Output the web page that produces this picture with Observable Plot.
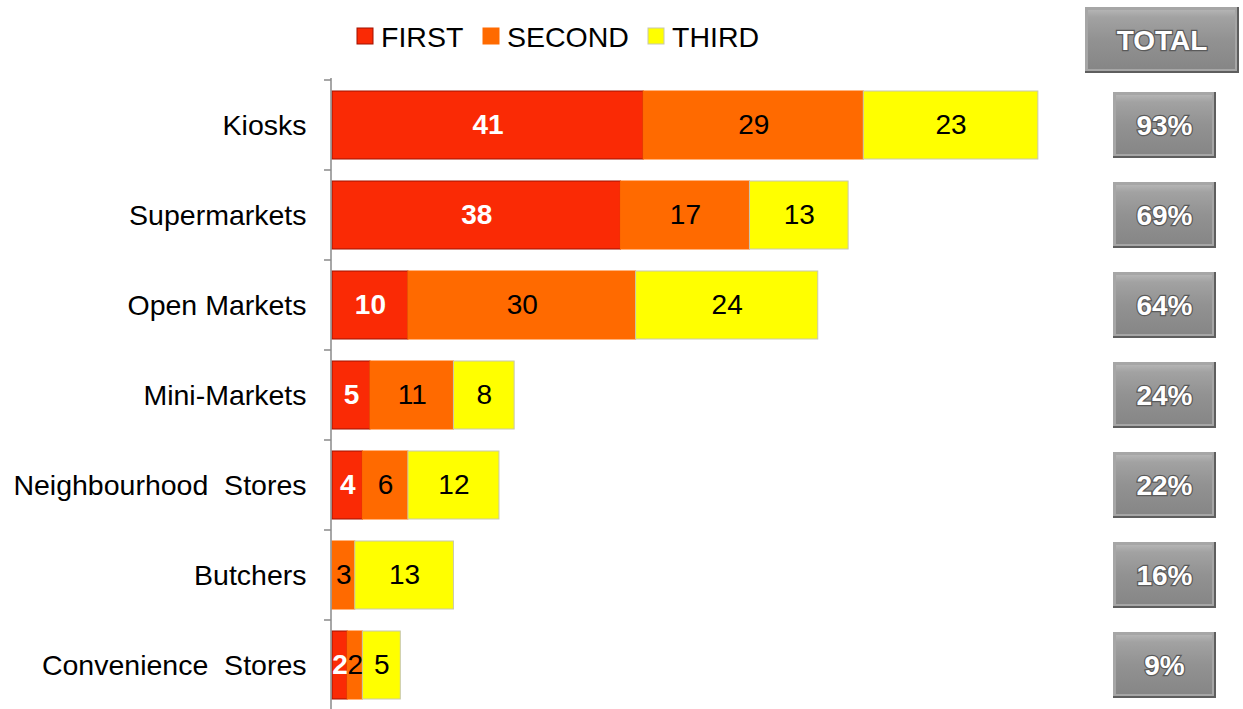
<!DOCTYPE html>
<html>
<head>
<meta charset="utf-8">
<script src="https://cdn.jsdelivr.net/npm/d3@7"></script>
<script src="https://cdn.jsdelivr.net/npm/@observablehq/plot@0.6"></script>
<style>
  html, body { margin: 0; padding: 0; background: #fff; }
  #chart { position: relative; width: 1243px; height: 709px; font-family: "Liberation Sans", Arial, sans-serif; }
  #chart svg { overflow: visible; }
</style>
</head>
<body>
<div id="chart"></div>
<script>
const categories = ["Kiosks", "Supermarkets", "Open Markets", "Mini-Markets", "Neighbourhood Stores", "Butchers", "Convenience Stores"];
const seriesNames = ["FIRST", "SECOND", "THIRD"];
const first  = [41, 38, 10, 5, 4, 0, 2];
const second = [29, 17, 30, 11, 6, 3, 2];
const third  = [23, 13, 24, 8, 12, 13, 5];
const totals = ["93%", "69%", "64%", "24%", "22%", "16%", "9%"];
const seriesFill   = {FIRST: "#fa2a05", SECOND: "#ff6a00", THIRD: "#ffff00"};
const seriesStroke = {FIRST: "#a01000", SECOND: "#ff6a00", THIRD: "#c8c8b0"};

const values = [first, second, third];
const data = [];
categories.forEach((c, i) => {
  seriesNames.forEach((s, j) => data.push({category: c, series: s, value: values[j][i]}));
});

const plot = Plot.plot({
  width: 1243,
  height: 709,
  marginLeft: 332,
  marginRight: 152,
  marginTop: 79,
  marginBottom: 0,
  style: {fontFamily: "Liberation Sans, Arial, sans-serif", background: "transparent", overflow: "visible"},
  x: {domain: [0, 100], axis: null},
  y: {type: "band", domain: categories, range: [78.7, 711], paddingInner: 0.247, paddingOuter: 0.1235, label: null},
  color: {type: "identity"},
  marks: [
    Plot.barX(data, Plot.stackX({
      x: "value", y: "category", z: "series",
      fill: d => seriesFill[d.series],
      stroke: d => seriesStroke[d.series],
      strokeWidth: 1
    })),
    Plot.text(data, Plot.stackX({
      x: "value", y: "category", z: "series",
      text: d => (d.series === "FIRST" && d.value > 0) ? String(d.value) : null,
      fill: "white", fontWeight: "bold", fontSize: 28
    })),
    Plot.text(data, Plot.stackX({
      x: "value", y: "category", z: "series",
      text: d => (d.series !== "FIRST" && d.value > 0) ? String(d.value) : null,
      fill: "black", fontSize: 28
    })),
    Plot.axisY({
      tickSize: 0, tickPadding: 26, fontSize: 28.5, color: "#000", label: null,
      tickFormat: d => d.replace(" Stores", " \u00a0Stores")
    })
  ]
});

document.getElementById("chart").appendChild(plot);

const svg = d3.select(plot);
const y = plot.scale("y");
const bw = y.bandwidth;
const step = y.step;
const gap = step - bw;

// defs for bevelled grey boxes
const defs = svg.append("defs");
const grad = defs.append("linearGradient").attr("id", "boxGrad").attr("x1", 0).attr("y1", 0).attr("x2", 0).attr("y2", 1);
grad.append("stop").attr("offset", "0%").attr("stop-color", "#b4b4b4");
grad.append("stop").attr("offset", "12%").attr("stop-color", "#a2a2a2");
grad.append("stop").attr("offset", "50%").attr("stop-color", "#929292");
grad.append("stop").attr("offset", "100%").attr("stop-color", "#868686");

function bevelBox(g, x, yTop, w, h, label) {
  g.append("rect").attr("x", x).attr("y", yTop).attr("width", w).attr("height", h).attr("fill", "#5e5e5e");
  g.append("rect").attr("x", x).attr("y", yTop).attr("width", w - 2).attr("height", h - 2).attr("fill", "#a6a6a6");
  g.append("rect").attr("x", x + 3).attr("y", yTop + 3).attr("width", w - 7).attr("height", h - 7).attr("fill", "url(#boxGrad)");
  g.append("text")
    .attr("x", x + w / 2).attr("y", yTop + h / 2)
    .attr("text-anchor", "middle").attr("dominant-baseline", "central")
    .attr("font-family", "Liberation Sans, Arial, sans-serif")
    .attr("font-weight", "bold").attr("font-size", 28)
    .attr("fill", "#fff").attr("stroke", "#5a5a5a").attr("stroke-width", 2.5)
    .attr("paint-order", "stroke")
    .text(label);
}

// y axis line and tick marks at band boundaries
const axG = svg.append("g").attr("stroke", "#8a8a8a").attr("stroke-width", 1.5);
const x0 = plot.scale("x").apply(0) - 1;
axG.append("line").attr("x1", x0).attr("x2", x0).attr("y1", 78).attr("y2", 709);
categories.forEach(c => {
  const yb = y.apply(c) - gap / 2;
  axG.append("line").attr("x1", x0 - 7).attr("x2", x0).attr("y1", yb).attr("y2", yb);
});

// total boxes
const totG = svg.append("g");
bevelBox(totG, 1085, 7, 154, 66, "TOTAL");
categories.forEach((c, i) => {
  const top = y.apply(c) + 1;
  bevelBox(totG, 1113, top, 103, bw - 2, totals[i]);
});

// legend
const legG = svg.append("g").attr("font-family", "Liberation Sans, Arial, sans-serif").attr("font-size", 28.5);
const legX = [357, 483, 648];
seriesNames.forEach((s, j) => {
  legG.append("rect").attr("x", legX[j]).attr("y", 28).attr("width", 16).attr("height", 16)
    .attr("fill", seriesFill[s]).attr("stroke", seriesStroke[s]).attr("stroke-width", 1);
  legG.append("text").attr("x", legX[j] + 24).attr("y", 37)
    .attr("text-anchor", "start").attr("dominant-baseline", "central")
    .attr("fill", "#000").text(s);
});
</script>
</body>
</html>
